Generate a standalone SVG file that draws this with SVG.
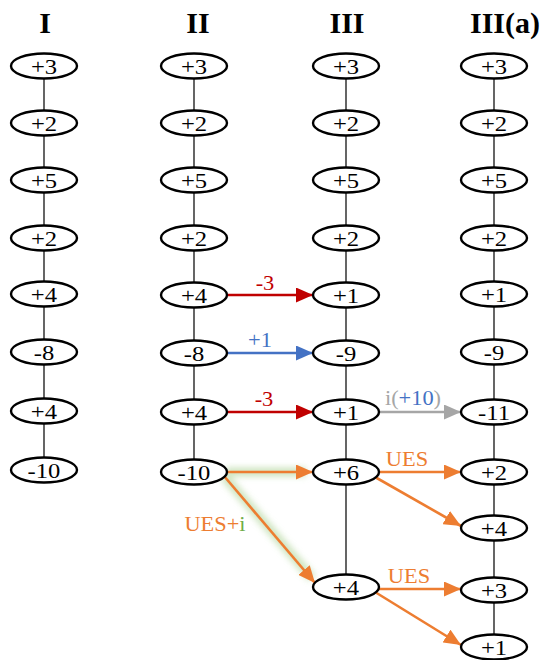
<svg xmlns="http://www.w3.org/2000/svg" width="544" height="660" viewBox="0 0 544 660">
<defs>
<style>
.n ellipse{fill:#fff;stroke:#000;stroke-width:2.4}
.n text{font-family:"Liberation Serif","Times New Roman",serif;font-size:22px;text-anchor:middle;transform-box:fill-box;transform-origin:center;transform:scaleX(1.12)}
.hd{font-family:"Liberation Serif","Times New Roman",serif;font-size:30px;font-weight:bold;text-anchor:middle}
.e{stroke:#000;stroke-width:1.2}
.lb{font-family:"Liberation Serif","Times New Roman",serif;font-size:20px;text-anchor:middle;transform-box:fill-box;transform-origin:center;transform:scaleX(1.12)}
.a{fill:none;stroke-width:2.6}
</style>
<marker id="mr" markerUnits="userSpaceOnUse" viewBox="0 0 17 15" refX="17" refY="7.5" markerWidth="17" markerHeight="15" orient="auto"><path d="M0,0L17,7.5L0,15z" fill="#C00000"/></marker>
<marker id="mb" markerUnits="userSpaceOnUse" viewBox="0 0 17 15" refX="17" refY="7.5" markerWidth="17" markerHeight="15" orient="auto"><path d="M0,0L17,7.5L0,15z" fill="#4472C4"/></marker>
<marker id="mg" markerUnits="userSpaceOnUse" viewBox="0 0 17 15" refX="17" refY="7.5" markerWidth="17" markerHeight="15" orient="auto"><path d="M0,0L17,7.5L0,15z" fill="#A6A6A6"/></marker>
<marker id="mo" markerUnits="userSpaceOnUse" viewBox="0 0 17 15" refX="17" refY="7.5" markerWidth="17" markerHeight="15" orient="auto"><path d="M0,0L17,7.5L0,15z" fill="#ED7D31"/></marker>
<filter id="glow" x="-20%" y="-20%" width="140%" height="140%"><feGaussianBlur stdDeviation="3"/></filter>
</defs>
<rect width="544" height="660" fill="#fff"/>
<g id="headers">
<text class="hd" x="45" y="33">I</text>
<text class="hd" x="198" y="33">II</text>
<text class="hd" x="347" y="33">III</text>
<text class="hd" x="505" y="33">III(a)</text>
</g>
<g id="connectors">
<path class="e" d="M44,66V470M194,66V470M346,66V587M494,66V648"/>
<g filter="url(#glow)" stroke="#C5E0B4" stroke-width="9" fill="none" opacity="0.85">
<path d="M226,472H306M224,476L312,578"/>
</g>
<path class="a" stroke="#C00000" marker-end="url(#mr)" d="M227,295H313"/>
<path class="a" stroke="#4472C4" marker-end="url(#mb)" d="M227,353H313"/>
<path class="a" stroke="#C00000" marker-end="url(#mr)" d="M227,412H313"/>
<path class="a" stroke="#A6A6A6" marker-end="url(#mg)" d="M379,412H461"/>
<path class="a" stroke="#ED7D31" marker-end="url(#mo)" d="M227,472H313"/>
<path class="a" stroke="#ED7D31" marker-end="url(#mo)" d="M224,476L315,583"/>
<path class="a" stroke="#ED7D31" marker-end="url(#mo)" d="M379,472H461"/>
<path class="a" stroke="#ED7D31" marker-end="url(#mo)" d="M375,477L461,526"/>
<path class="a" stroke="#ED7D31" marker-end="url(#mo)" d="M379,589H461"/>
<path class="a" stroke="#ED7D31" marker-end="url(#mo)" d="M375,592L461,645"/>
<text class="lb" x="265" y="290" fill="#C00000">-3</text>
<text class="lb" x="260" y="347" fill="#4472C4">+1</text>
<text class="lb" x="264" y="406" fill="#C00000">-3</text>
<text class="lb" x="413" y="405" fill="#A6A6A6">i(<tspan fill="#4472C4">+10</tspan>)</text>
<text class="lb" x="407" y="466" fill="#ED7D31">UES</text>
<text class="lb" x="215" y="531" fill="#ED7D31">UES+<tspan fill="#70AD47">i</tspan></text>
<text class="lb" x="409" y="583" fill="#ED7D31">UES</text>
</g>
<g id="I-1" class="n"><ellipse cx="44" cy="66" rx="33" ry="12.5"/><text x="44" y="74">+3</text></g>
<g id="I-2" class="n"><ellipse cx="44" cy="123" rx="33" ry="12.5"/><text x="44" y="131">+2</text></g>
<g id="I-3" class="n"><ellipse cx="44" cy="180" rx="33" ry="12.5"/><text x="44" y="188">+5</text></g>
<g id="I-4" class="n"><ellipse cx="44" cy="238" rx="33" ry="12.5"/><text x="44" y="246">+2</text></g>
<g id="I-5" class="n"><ellipse cx="44" cy="294" rx="33" ry="12.5"/><text x="44" y="302">+4</text></g>
<g id="I-6" class="n"><ellipse cx="44" cy="352" rx="33" ry="12.5"/><text x="44" y="360">-8</text></g>
<g id="I-7" class="n"><ellipse cx="44" cy="411" rx="33" ry="12.5"/><text x="44" y="419">+4</text></g>
<g id="I-8" class="n"><ellipse cx="44" cy="470" rx="33" ry="12.5"/><text x="44" y="478">-10</text></g>
<g id="II-1" class="n"><ellipse cx="194" cy="66" rx="33" ry="12.5"/><text x="194" y="74">+3</text></g>
<g id="II-2" class="n"><ellipse cx="194" cy="123" rx="33" ry="12.5"/><text x="194" y="131">+2</text></g>
<g id="II-3" class="n"><ellipse cx="194" cy="180" rx="33" ry="12.5"/><text x="194" y="188">+5</text></g>
<g id="II-4" class="n"><ellipse cx="194" cy="238" rx="33" ry="12.5"/><text x="194" y="246">+2</text></g>
<g id="II-5" class="n"><ellipse cx="194" cy="295" rx="33" ry="12.5"/><text x="194" y="303">+4</text></g>
<g id="II-6" class="n"><ellipse cx="194" cy="353" rx="33" ry="12.5"/><text x="194" y="361">-8</text></g>
<g id="II-7" class="n"><ellipse cx="194" cy="412" rx="33" ry="12.5"/><text x="194" y="420">+4</text></g>
<g id="II-8" class="n"><ellipse cx="194" cy="472" rx="33" ry="12.5"/><text x="194" y="480">-10</text></g>
<g id="III-1" class="n"><ellipse cx="346" cy="66" rx="33" ry="12.5"/><text x="346" y="74">+3</text></g>
<g id="III-2" class="n"><ellipse cx="346" cy="123" rx="33" ry="12.5"/><text x="346" y="131">+2</text></g>
<g id="III-3" class="n"><ellipse cx="346" cy="180" rx="33" ry="12.5"/><text x="346" y="188">+5</text></g>
<g id="III-4" class="n"><ellipse cx="346" cy="238" rx="33" ry="12.5"/><text x="346" y="246">+2</text></g>
<g id="III-5" class="n"><ellipse cx="346" cy="295" rx="33" ry="12.5"/><text x="346" y="303">+1</text></g>
<g id="III-6" class="n"><ellipse cx="346" cy="353" rx="33" ry="12.5"/><text x="346" y="361">-9</text></g>
<g id="III-7" class="n"><ellipse cx="346" cy="412" rx="33" ry="12.5"/><text x="346" y="420">+1</text></g>
<g id="III-8" class="n"><ellipse cx="346" cy="472" rx="33" ry="12.5"/><text x="346" y="480">+6</text></g>
<g id="III-9" class="n"><ellipse cx="346" cy="587" rx="33" ry="12.5"/><text x="346" y="595">+4</text></g>
<g id="IIIa-1" class="n"><ellipse cx="494" cy="66" rx="33" ry="12.5"/><text x="494" y="74">+3</text></g>
<g id="IIIa-2" class="n"><ellipse cx="494" cy="123" rx="33" ry="12.5"/><text x="494" y="131">+2</text></g>
<g id="IIIa-3" class="n"><ellipse cx="494" cy="180" rx="33" ry="12.5"/><text x="494" y="188">+5</text></g>
<g id="IIIa-4" class="n"><ellipse cx="494" cy="238" rx="33" ry="12.5"/><text x="494" y="246">+2</text></g>
<g id="IIIa-5" class="n"><ellipse cx="494" cy="294" rx="33" ry="12.5"/><text x="494" y="302">+1</text></g>
<g id="IIIa-6" class="n"><ellipse cx="494" cy="352" rx="33" ry="12.5"/><text x="494" y="360">-9</text></g>
<g id="IIIa-7" class="n"><ellipse cx="494" cy="412" rx="33" ry="12.5"/><text x="494" y="420">-11</text></g>
<g id="IIIa-8" class="n"><ellipse cx="494" cy="472" rx="33" ry="12.5"/><text x="494" y="480">+2</text></g>
<g id="IIIa-9" class="n"><ellipse cx="494" cy="528" rx="33" ry="12.5"/><text x="494" y="536">+4</text></g>
<g id="IIIa-10" class="n"><ellipse cx="494" cy="590" rx="33" ry="12.5"/><text x="494" y="598">+3</text></g>
<g id="IIIa-11" class="n"><ellipse cx="494" cy="647" rx="33" ry="12.5"/><text x="494" y="655">+1</text></g>
</svg>
